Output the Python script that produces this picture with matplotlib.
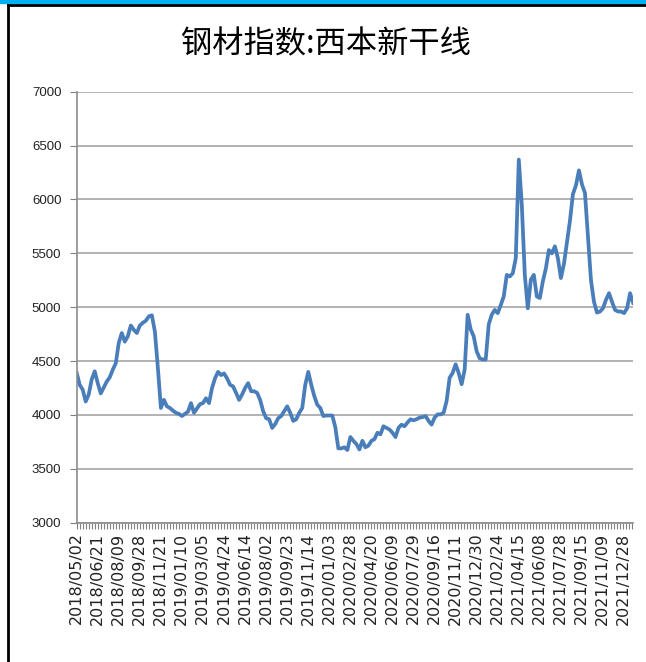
#!/usr/bin/env python3

import numpy as np
import matplotlib
matplotlib.use("Agg")
import matplotlib.pyplot as plt
from matplotlib.patches import Rectangle
from matplotlib.lines import Line2D
from matplotlib.ticker import MultipleLocator

# ==============================
# DATA
# ==============================
TITLE = "钢材指数:西本新干线"

# tick labels (one every 35 trading days)
DATE_LABELS = [
    "2018/05/02", "2018/06/21", "2018/08/09", "2018/09/28", "2018/11/21",
    "2019/01/10", "2019/03/05", "2019/04/24", "2019/06/14", "2019/08/02",
    "2019/09/23", "2019/11/14", "2020/01/03", "2020/02/28", "2020/04/20",
    "2020/06/09", "2020/07/29", "2020/09/16", "2020/11/11", "2020/12/30",
    "2021/02/24", "2021/04/15", "2021/06/08", "2021/07/28", "2021/09/15",
    "2021/11/09", "2021/12/28",
]
N_DAYS = 927          # trading days on the category axis
LABEL_EVERY = 35

# index values, evenly spread over the period
VALUES_2018 = [
    4390, 4280, 4235, 4125, 4190, 4330, 4405, 4295, 4200, 4255,
    4310, 4350, 4420, 4480, 4670, 4760, 4680, 4730, 4830, 4790,
    4760, 4830, 4855, 4875, 4915, 4925, 4775, 4435, 4065, 4140,
    4080, 4065, 4040, 4020, 4010, 3990, 4010, 4030, 4110, 4020,
    4060, 4100, 4110, 4155, 4110, 4250,
]
VALUES_2019 = [
    4340, 4400, 4370, 4385, 4340, 4280, 4265, 4205, 4140, 4190,
    4250, 4295, 4220, 4220, 4205, 4140, 4035, 3970, 3960, 3880,
    3915, 3970, 3990, 4035, 4080, 4020, 3945, 3960, 4020, 4065,
    4280, 4400, 4280, 4175, 4095, 4065, 3990, 3995, 3995, 3995,
    3885, 3690, 3690, 3700, 3675, 3795,
]
VALUES_2020 = [
    3760, 3730, 3680, 3760, 3700, 3715, 3760, 3775, 3835, 3820,
    3895, 3880, 3865, 3835, 3795, 3880, 3910, 3895, 3930, 3960,
    3950, 3960, 3975, 3980, 3990, 3945, 3910, 3975, 4005, 4005,
    4020, 4130, 4345, 4390, 4470, 4390, 4285, 4420, 4930, 4795,
    4730, 4590, 4525, 4515, 4515, 4840,
]
VALUES_2021 = [
    4930, 4975, 4945, 5020, 5100, 5300, 5285, 5315, 5455, 6370,
    5950, 5300, 4990, 5255, 5300, 5100, 5085, 5240, 5360, 5530,
    5500, 5565, 5455, 5270, 5400, 5600, 5800, 6050, 6130, 6270,
    6140, 6060, 5650, 5250, 5050, 4950, 4960, 4990, 5070, 5130,
    5050, 4975, 4960, 4960, 4945, 4990, 5130, 5040,
]

LINE_COLOR = "#4A7EBB"
GRID_COLOR = "#A6A6A6"

# ==============================
# PLOT
# ==============================

def main():
    values = VALUES_2018 + VALUES_2019 + VALUES_2020 + VALUES_2021
    x = np.linspace(0, N_DAYS - 1, len(values))

    fig = plt.figure(figsize=(6.46, 6.62), dpi=100)
    ax = fig.add_axes([0.1187, 0.2104, 0.8613, 0.6511])

    ax.plot(x, values, color=LINE_COLOR, linewidth=2.7, solid_joinstyle="round")

    ax.set_xlim(0, N_DAYS - 1)
    ax.set_ylim(3000, 7000)
    ax.set_yticks(np.arange(3000, 7001, 500))
    ax.yaxis.grid(True, color=GRID_COLOR, linewidth=1.2)
    ax.set_axisbelow(True)

    ax.set_xticks(np.arange(len(DATE_LABELS)) * LABEL_EVERY)
    ax.set_xticklabels(DATE_LABELS, rotation=90, fontsize=11.5,
                       family="DejaVu Sans", color="#222222")
    ax.xaxis.set_minor_locator(MultipleLocator(5))
    ax.tick_params(axis="x", which="both", length=4, width=0.8,
                   color="#808080", pad=3)
    ax.tick_params(axis="y", length=5, width=0.8, color="#808080",
                   labelsize=9.5, labelcolor="#222222", pad=6)
    for lab in ax.get_yticklabels():
        lab.set_family("Liberation Sans")

    for side in ["top", "right"]:
        ax.spines[side].set_visible(False)
    for side in ["left", "bottom"]:
        ax.spines[side].set_color("#8C8C8C")
        ax.spines[side].set_linewidth(1.2)

    fig.text(0.505, 1 - 44 / 662, TITLE, ha="center", va="center",
             fontsize=22.5, family=["Noto Sans CJK SC", "DejaVu Sans"])

    # frame of the screenshot
    fig.add_artist(Rectangle((0, 1 - 3 / 662), 1, 3 / 662,
                             transform=fig.transFigure, color="#00B0F0"))
    fig.add_artist(Line2D([7.5 / 646, 1], [1 - 4.5 / 662, 1 - 4.5 / 662],
                          transform=fig.transFigure, color="black", linewidth=2))
    fig.add_artist(Line2D([8 / 646, 8 / 646], [0, 1 - 4.5 / 662],
                          transform=fig.transFigure, color="black", linewidth=2))

    fig.savefig("out.png", dpi=100)
    plt.close(fig)


if __name__ == "__main__":
    main()
